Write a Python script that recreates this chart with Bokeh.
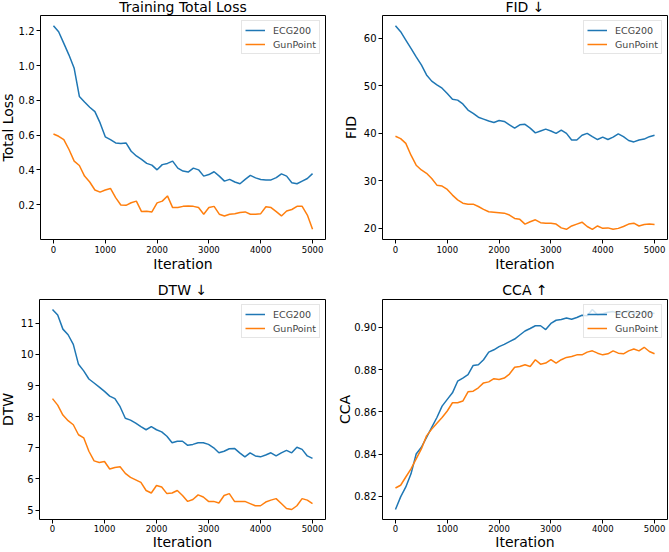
from bokeh.plotting import figure
from bokeh.layouts import column, row
from bokeh.models import FixedTicker, Range1d, NumeralTickFormatter
from bokeh.embed import file_html
from bokeh.resources import INLINE

iterations = list(range(0, 5001, 100))
series_names = ["ECG200", "GunPoint"]
x_ticks = [0, 1000, 2000, 3000, 4000, 5000]

loss_ecg200 = [1.229, 1.194, 1.127, 1.06, 0.984, 0.822, 0.79, 0.76, 0.735, 0.67,
               0.59, 0.574, 0.555, 0.551, 0.555, 0.507, 0.48, 0.46, 0.437, 0.427,
               0.40, 0.43, 0.437, 0.45, 0.41, 0.393, 0.387, 0.41, 0.40, 0.364,
               0.373, 0.389, 0.364, 0.335, 0.345, 0.33, 0.32, 0.345, 0.368, 0.354,
               0.345, 0.342, 0.342, 0.355, 0.377, 0.364, 0.326, 0.32, 0.335, 0.35,
               0.378]
loss_gunpoint = [0.606, 0.593, 0.574, 0.517, 0.45, 0.425, 0.364, 0.33, 0.284, 0.272,
                 0.284, 0.293, 0.24, 0.198, 0.196, 0.211, 0.22, 0.16, 0.162, 0.158,
                 0.21, 0.22, 0.25, 0.183, 0.183, 0.19, 0.192, 0.19, 0.183, 0.145,
                 0.183, 0.19, 0.145, 0.135, 0.145, 0.148, 0.155, 0.158, 0.145, 0.145,
                 0.148, 0.188, 0.183, 0.16, 0.135, 0.163, 0.172, 0.19, 0.19, 0.14,
                 0.058]
fid_ecg200 = [62.67, 61.4, 59.65, 57.9, 56.1, 54.4, 52.3, 51.0, 50.2, 49.5,
              48.4, 47.2, 47.0, 46.2, 44.9, 44.2, 43.4, 43.0, 42.6, 42.3,
              42.7, 42.5, 41.8, 41.1, 41.8, 41.9, 41.1, 40.1, 40.5, 40.9,
              40.5, 40.0, 40.7, 40.0, 38.6, 38.6, 39.6, 40.0, 39.3, 38.7,
              39.2, 38.7, 39.2, 39.9, 39.3, 38.5, 38.2, 38.6, 38.8, 39.3,
              39.6]
fid_gunpoint = [39.4, 38.9, 37.9, 35.4, 33.3, 32.3, 31.6, 30.5, 29.1, 28.9,
                28.2, 27.0, 26.0, 25.3, 25.1, 25.1, 24.6, 24.0, 23.5, 23.4,
                23.3, 23.2, 22.8, 22.1, 21.9, 20.9, 21.4, 21.8, 21.2, 21.1,
                21.1, 20.9, 20.1, 19.8, 20.5, 20.9, 21.3, 20.4, 19.8, 20.5,
                20.0, 20.1, 19.8, 20.0, 20.4, 20.9, 21.1, 20.5, 20.8, 20.9,
                20.8]
dtw_ecg200 = [11.44, 11.26, 10.81, 10.63, 10.32, 9.68, 9.47, 9.21, 9.08, 8.95,
              8.81, 8.66, 8.58, 8.32, 7.95, 7.89, 7.79, 7.68, 7.58, 7.68,
              7.58, 7.51, 7.37, 7.16, 7.21, 7.21, 7.08, 7.11, 7.16, 7.16,
              7.11, 7.0, 6.84, 6.89, 6.97, 6.98, 6.84, 6.71, 6.84, 6.74,
              6.71, 6.77, 6.84, 6.74, 6.84, 6.92, 6.84, 7.02, 6.95, 6.74,
              6.66]
dtw_gunpoint = [8.58, 8.37, 8.05, 7.87, 7.74, 7.42, 7.32, 6.89, 6.58, 6.53,
                6.56, 6.32, 6.37, 6.39, 6.18, 6.05, 5.97, 5.89, 5.63, 5.55,
                5.79, 5.74, 5.53, 5.55, 5.63, 5.47, 5.28, 5.34, 5.49, 5.42,
                5.28, 5.28, 5.23, 5.47, 5.53, 5.28, 5.28, 5.28, 5.21, 5.14,
                5.14, 5.26, 5.32, 5.37, 5.21, 5.05, 5.02, 5.14, 5.37, 5.32,
                5.21]
cca_ecg200 = [0.8137, 0.8197, 0.8244, 0.8306, 0.84, 0.8432, 0.8479, 0.8526, 0.8573, 0.8627,
              0.8659, 0.869, 0.8745, 0.876, 0.8776, 0.882, 0.8823, 0.8847, 0.8883, 0.8894,
              0.8909, 0.892, 0.8933, 0.8945, 0.8964, 0.8983, 0.8995, 0.9008, 0.9008, 0.899,
              0.9019, 0.9034, 0.9038, 0.9045, 0.9039, 0.9047, 0.9058, 0.9055, 0.9085, 0.906,
              0.9065, 0.9072, 0.9075, 0.9067, 0.9072, 0.9078, 0.9068, 0.9063, 0.9078, 0.907,
              0.9066]
cca_gunpoint = [0.8239, 0.8252, 0.8291, 0.833, 0.8377, 0.8424, 0.8486, 0.8518, 0.8546, 0.8573,
                0.8604, 0.8643, 0.8643, 0.8651, 0.8695, 0.8698, 0.8714, 0.8737, 0.8742, 0.8757,
                0.8753, 0.876, 0.8779, 0.8811, 0.8815, 0.8823, 0.8815, 0.8847, 0.8826, 0.8831,
                0.8847, 0.8831, 0.8847, 0.8858, 0.8862, 0.887, 0.887, 0.8883, 0.8889, 0.8878,
                0.887, 0.8875, 0.8889, 0.8878, 0.8875, 0.8889, 0.8898, 0.8889, 0.8906, 0.8886,
                0.8875]

loss_ticks = [0.2, 0.4, 0.6, 0.8, 1.0, 1.2]
fid_ticks = [20, 30, 40, 50, 60]
dtw_ticks = [5, 6, 7, 8, 9, 10, 11]
cca_ticks = [0.82, 0.84, 0.86, 0.88, 0.90]

COLORS = ["#1f77b4", "#ff7f0e"]
FONT = "DejaVu Sans"


def make_panel(title, ylabel, ecg, gun, yticks, yfmt, width, height, borders, margin,
               title_standoff, ylab_standoff, xtick_standoff, xlab_standoff, xlab_lh):
    lo = min(min(ecg), min(gun))
    hi = max(max(ecg), max(gun))
    pad = 0.05 * (hi - lo)
    x0, x1 = iterations[0], iterations[-1]
    xpad = 0.05 * (x1 - x0)
    left, right, top, bottom = borders
    p = figure(width=width, height=height, output_backend="svg", toolbar_location=None,
               x_range=Range1d(x0 - xpad, x1 + xpad), y_range=Range1d(lo - pad, hi + pad),
               min_border_left=left, min_border_right=right,
               min_border_top=top, min_border_bottom=bottom, margin=margin,
               title=title, x_axis_label="Iteration", y_axis_label=ylabel)
    for vals, name, col in zip([ecg, gun], series_names, COLORS):
        p.line(iterations, vals, color=col, line_width=1.5, legend_label=name)
    p.xgrid.visible = False
    p.ygrid.visible = False
    p.outline_line_color = "black"
    p.outline_line_width = 1
    p.outline_line_alpha = 1
    p.background_fill_color = "white"
    p.border_fill_color = "white"

    p.title.align = "center"
    p.title.text_font = FONT
    p.title.text_font_size = "14px"
    p.title.text_font_style = "normal"
    p.title.text_color = "black"
    p.title.standoff = title_standoff

    p.xaxis.ticker = FixedTicker(ticks=x_ticks)
    p.yaxis.ticker = FixedTicker(ticks=yticks)
    p.yaxis.formatter = NumeralTickFormatter(format=yfmt)
    for ax in (p.xaxis[0], p.yaxis[0]):
        ax.axis_line_color = None
        ax.minor_tick_line_color = None
        ax.major_tick_in = 0
        ax.major_tick_out = 4
        ax.major_tick_line_color = "black"
        ax.major_label_text_font = FONT
        ax.major_label_text_color = "black"
        ax.axis_label_text_font = FONT
        ax.axis_label_text_font_size = "14px"
        ax.axis_label_text_font_style = "normal"
        ax.axis_label_text_color = "black"
    p.xaxis.major_label_text_font_size = "8.5px"
    p.yaxis.major_label_text_font_size = "10px"
    p.xaxis.major_label_standoff = xtick_standoff
    p.yaxis.major_label_standoff = 2
    p.xaxis.axis_label_standoff = xlab_standoff
    p.yaxis.axis_label_standoff = ylab_standoff
    p.xaxis.axis_label_text_line_height = xlab_lh

    leg = p.legend[0]
    leg.location = "top_right"
    leg.margin = 5
    leg.padding = 3
    leg.spacing = 2
    leg.glyph_width = 20
    leg.glyph_height = 12
    leg.label_height = 12
    leg.label_standoff = 8
    leg.label_text_font = FONT
    leg.label_text_font_size = "9.5px"
    leg.border_line_color = "#cccccc"
    leg.border_line_width = 1
    leg.background_fill_color = "white"
    leg.background_fill_alpha = 0.8
    return p


p1 = make_panel("Training Total Loss", "Total Loss", loss_ecg200, loss_gunpoint,
                loss_ticks, "0.0", 338, 279, (38, 9, 15, 35), (-5, 0, 0, -4),
                2, 0, 2, 0, 1.2)
p2 = make_panel("FID ↓", "FID", fid_ecg200, fid_gunpoint,
                fid_ticks, "0", 335, 279, (48, 2, 15, 35), (-5, 0, 0, 0),
                2, 2, 2, 0, 1.2)
p3 = make_panel("DTW ↓", "DTW", dtw_ecg200, dtw_gunpoint,
                dtw_ticks, "0", 338, 278, (39, 9, 25, 29), (0, 0, 0, -4),
                3, 2, 1, -1, 1.0)
p4 = make_panel("CCA ↑", "CCA", cca_ecg200, cca_gunpoint,
                cca_ticks, "0.00", 335, 278, (48, 2, 25, 29), (0, 0, 0, 0),
                3, -2, 1, -1, 1.0)

layout = column(row(p1, p2), row(p3, p4))
open("out.html", "w").write(file_html(layout, INLINE))
